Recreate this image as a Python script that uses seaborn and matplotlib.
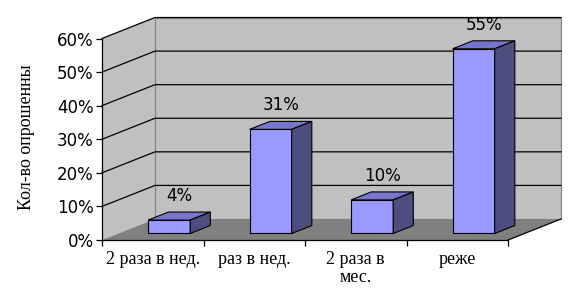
import matplotlib
matplotlib.use("Agg")
import matplotlib.pyplot as plt
import seaborn as sns
from matplotlib.patches import Polygon
from matplotlib.lines import Line2D

categories = ["2 раза в нед.", "раз в нед.", "2 раза в\nмес.", "реже"]
values = [4, 31, 10, 55]
yticks = [0, 10, 20, 30, 40, 50, 60]
ytick_labels = ["0%", "10%", "20%", "30%", "40%", "50%", "60%"]
value_labels = ["4%", "31%", "10%", "55%"]
ylabel = "Кол-во опрошенны"

W, H = 574, 299
fig = plt.figure(figsize=(W / 100, H / 100), dpi=100)
fig.patch.set_facecolor("white")
ax = fig.add_axes([102 / W, 59 / H, 406 / W, 201.5 / H])
ax.set_facecolor("none")

DX, DY = 0.522, 6.25    # depth vector in data units
F0, F1 = 0.31, 0.69     # bar front / back depth fraction
x0, x1 = -0.5, 3.5
ymax = 60

WALL = "#C0C0C0"
FLOOR = "#808080"
FRONT = "#9999FF"
TOP = "#7676CE"
SIDE = "#4D4D80"

# walls and floor
left_wall = Polygon([(x0, 0), (x0, ymax), (x0 + DX, ymax + DY), (x0 + DX, DY)],
                    closed=True, facecolor=WALL, edgecolor="none", zorder=0, clip_on=False)
back_wall = Polygon([(x0 + DX, DY), (x1 + DX, DY), (x1 + DX, ymax + DY), (x0 + DX, ymax + DY)],
                    closed=True, facecolor=WALL, edgecolor="#808080", linewidth=0.8, zorder=0, clip_on=False)
floor = Polygon([(x0, 0), (x1, 0), (x1 + DX, DY), (x0 + DX, DY)],
                closed=True, facecolor=FLOOR, edgecolor="none", zorder=0.5, clip_on=False)
scene = (left_wall, back_wall, floor)
for p in scene:
    ax.add_patch(p)

# gridlines
for v in yticks[1:]:
    ax.add_line(Line2D([x0, x0 + DX, x1 + DX], [v, v + DY, v + DY],
                       color="black", linewidth=0.9, zorder=1, clip_on=False))
ax.add_line(Line2D([x1, x1 + DX], [0, DY], color="black", linewidth=0.9, zorder=1, clip_on=False))

# bars
sns.barplot(x=categories, y=values, color=FRONT, saturation=1, width=0.414,
            edgecolor="black", linewidth=0.8, ax=ax, zorder=3)

bars = [p for p in ax.patches if p not in scene]
for patch, lab in zip(bars, value_labels):
    patch.set_x(patch.get_x() + F0 * DX)
    patch.set_y(F0 * DY)
    patch.set_clip_on(False)
    bx, by = patch.get_x(), patch.get_y()
    bw, bh = patch.get_width(), patch.get_height()
    ddx, ddy = (F1 - F0) * DX, (F1 - F0) * DY
    top = Polygon([(bx, by + bh), (bx + bw, by + bh), (bx + bw + ddx, by + bh + ddy), (bx + ddx, by + bh + ddy)],
                  closed=True, facecolor=TOP, edgecolor="black", linewidth=0.8, zorder=3, clip_on=False)
    side = Polygon([(bx + bw, by), (bx + bw + ddx, by + ddy), (bx + bw + ddx, by + bh + ddy), (bx + bw, by + bh)],
                   closed=True, facecolor=SIDE, edgecolor="black", linewidth=0.8, zorder=3, clip_on=False)
    ax.add_patch(top)
    ax.add_patch(side)
    ax.annotate(lab, (bx + bw / 2 + ddx / 2, by + bh + ddy), xytext=(0, 5), textcoords="offset points",
                ha="center", va="bottom", fontsize=12, family="DejaVu Sans", zorder=5)

ax.set_xlim(x0, x1)
ax.set_ylim(0, ymax)
for s in ("top", "right"):
    ax.spines[s].set_visible(False)
for s in ("left", "bottom"):
    ax.spines[s].set_color("black")
    ax.spines[s].set_linewidth(0.9)
    ax.spines[s].set_zorder(2)

ax.set_yticks(yticks)
ax.set_yticklabels(ytick_labels, family="DejaVu Sans", fontsize=12)
ax.tick_params(axis="y", direction="out", length=4, width=0.9, pad=2)

ax.set_xticks([x0 + i for i in range(5)])
ax.set_xticklabels([])
ax.set_xticks(range(len(categories)), minor=True)
ax.set_xticklabels(categories, minor=True, family="Liberation Serif", fontsize=13, linespacing=1.05)
ax.tick_params(axis="x", which="major", direction="out", length=4, width=0.9)
ax.tick_params(axis="x", which="minor", length=0, pad=8)
ax.set_xlabel("")
ax.set_ylabel("")

fig.text(27 / W, 1 - 137 / H, ylabel, rotation=90, ha="center", va="center",
         family="Liberation Serif", fontsize=13)

fig.savefig("out.png", dpi=100, facecolor="white")
